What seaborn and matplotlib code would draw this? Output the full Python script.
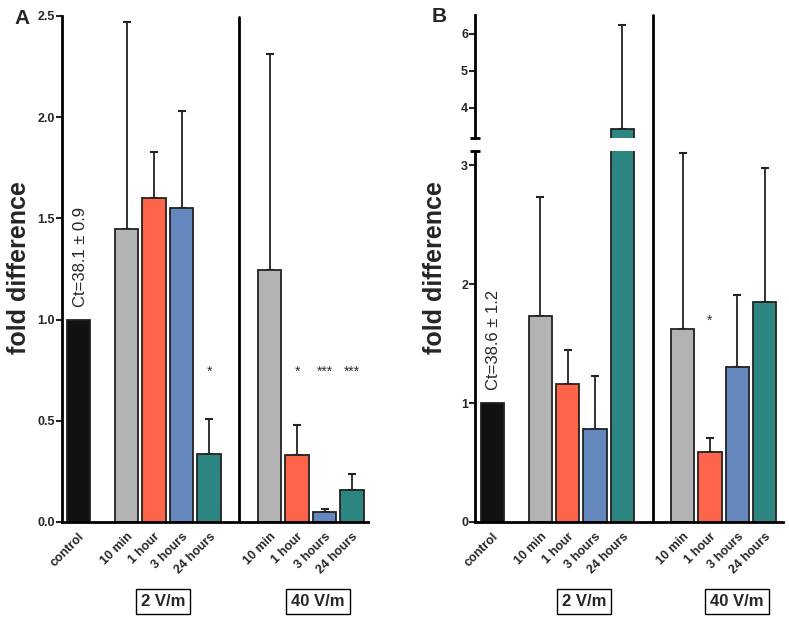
import numpy as np
import pandas as pd
import seaborn as sns
import matplotlib
import matplotlib.pyplot as plt

matplotlib.use('Agg')
sns.set_style('white')
plt.rcParams['font.family'] = ['Liberation Sans', 'DejaVu Sans']

# data
times = ['10 min', '1 hour', '3 hours', '24 hours']
groups = ['2 V/m', '40 V/m']

a_control = 1.0
a_2v = [1.447, 1.60, 1.55, 0.336]
a_2v_top = [2.47, 1.83, 2.03, 0.51]
a_40v = [1.245, 0.33, 0.05, 0.16]
a_40v_top = [2.31, 0.48, 0.065, 0.235]
a_stars_2v = ['', '', '', '*']
a_stars_40v = ['', '*', '***', '***']
a_ct = 'Ct=38.1 ± 0.9'

b_control = 1.0
b_2v = [1.73, 1.16, 0.78, 3.43]
b_2v_top = [2.73, 1.45, 1.23, 6.24]
b_40v = [1.62, 0.59, 1.30, 1.85]
b_40v_top = [3.10, 0.71, 1.91, 2.98]
b_stars_2v = ['', '', '', '']
b_stars_40v = ['', '*', '', '']
b_ct = 'Ct=38.6 ± 1.2'

colors = {'control': '#111111', '10 min': '#b3b3b3', '1 hour': '#fe644a',
          '3 hours': '#6488bd', '24 hours': '#2e8682'}
EDGE = '#222222'
TICK_FS = 9


def make_df(ctrl, v2, v2top, v40, v40top):
    # control, gap, 4 bars, divider gap, 4 bars
    pos = [0.0] + [1.75 + i for i in range(4)] + [6.95 + i for i in range(4)]
    lab = ['control'] + times + times
    val = [ctrl] + v2 + v40
    top = [ctrl] + v2top + v40top
    return pd.DataFrame({'pos': pos, 'time': lab, 'value': val, 'top': top})


def draw_bars(ax, df):
    sns.barplot(data=df, x='pos', y='value', hue='time', palette=colors,
                native_scale=True, dodge=False, width=0.85, edgecolor=EDGE,
                linewidth=1.3, legend=False, ax=ax, errorbar=None,
                saturation=1, zorder=2)
    err = df[df.time != 'control']
    ax.errorbar(err.pos, err.value, yerr=[np.zeros(len(err)), err.top - err.value],
                fmt='none', ecolor='#222222', elinewidth=1.3, capsize=2.6,
                capthick=1.5, zorder=1)


def style_axis(ax, xlim):
    ax.set_xlim(*xlim)
    ax.patch.set_visible(False)
    for s in ['top', 'right']:
        ax.spines[s].set_visible(False)
    for s in ['left', 'bottom']:
        ax.spines[s].set_linewidth(2)
        ax.spines[s].set_color('black')
    ax.tick_params(axis='y', direction='out', length=4, width=1.5, pad=1,
                   labelsize=TICK_FS, left=True)
    ax.set_xlabel('')
    ax.set_ylabel('')
    for t in ax.get_yticklabels():
        t.set_fontweight('bold')


def x_labels(ax, df):
    ax.set_xticks(df.pos)
    ax.set_xticklabels(df.time, rotation=45, ha='right', rotation_mode='anchor',
                       fontsize=TICK_FS, fontweight='bold')
    ax.tick_params(axis='x', length=0, pad=6)


W, H = 789, 622
fig = plt.figure(figsize=(W / 100, H / 100), dpi=100)

# ---- panel A
dfa = make_df(a_control, a_2v, a_2v_top, a_40v, a_40v_top)
axa = fig.add_axes([62 / W, 1 - 522 / H, (368 - 62) / W, (522 - 16) / H])
draw_bars(axa, dfa)
axa.set_ylim(0, 2.5)
axa.set_yticks([0, 0.5, 1.0, 1.5, 2.0, 2.5])
axa.set_yticklabels(['0.0', '0.5', '1.0', '1.5', '2.0', '2.5'])
style_axis(axa, (-0.6, 10.53))
x_labels(axa, dfa)
axa.axvline(5.85, color='black', lw=2, ymax=0.998)
for p, s in zip(dfa.pos[1:], a_stars_2v + a_stars_40v):
    if s:
        axa.text(p, 0.74, s, ha='center', va='center', fontsize=10, color='#333333')
axa.text(0.08, 1.06, a_ct, rotation=90, ha='center', va='bottom', fontsize=12)

# ---- panel B (broken axis)
dfb = make_df(b_control, b_2v, b_2v_top, b_40v, b_40v_top)
bl, bw = 475 / W, (783 - 475) / W
axb = fig.add_axes([bl, 1 - 522 / H, bw, (522 - 151) / H])
axu = fig.add_axes([bl, 1 - 138 / H, bw, (138 - 15) / H])
for ax in (axb, axu):
    draw_bars(ax, dfb)
axb.set_ylim(0, 3.12)
axb.set_yticks([0, 1, 2, 3])
axu.set_ylim(3.19, 6.5)
axu.set_yticks([4, 5, 6])
style_axis(axb, (-0.64, 10.62))
style_axis(axu, (-0.64, 10.62))
x_labels(axb, dfb)
axu.spines['bottom'].set_visible(False)
axu.set_xticks([])
# break marks
axb.plot([0], [1], marker='_', ms=7, mew=2, color='black', transform=axb.transAxes, clip_on=False)
axu.plot([0], [0], marker='_', ms=7, mew=2, color='black', transform=axu.transAxes, clip_on=False)
axb.axvline(5.85, color='black', lw=2, ymax=(522 - 15) / (522 - 151), clip_on=False)
for p, s in zip(dfb.pos[1:], b_stars_2v + b_stars_40v):
    if s:
        axb.text(p, 1.69, s, ha='center', va='center', fontsize=10, color='#333333')
axb.text(0.05, 1.11, b_ct, rotation=90, ha='center', va='bottom', fontsize=12)

# ---- labels
for x, t in [(19, 'fold difference'), (435, 'fold difference')]:
    fig.text(x / W, 1 - 268 / H, t, rotation=90, ha='center', va='center',
             fontsize=18, fontweight='bold')
fig.text(14 / W, 1 - 18 / H, 'A', ha='left', va='center', fontsize=15, fontweight='bold')
fig.text(432 / W, 1 - 17 / H, 'B', ha='left', va='center', fontsize=15, fontweight='bold')

box = dict(boxstyle='square,pad=0.3', fc='white', ec='black', lw=1)
for x, g in zip([163, 318, 584, 737], groups + groups):
    fig.text(x / W, 1 - 601 / H, g, ha='center', va='center', fontsize=12,
             fontweight='bold', bbox=box)

fig.savefig('out.png', dpi=100, facecolor='white')
